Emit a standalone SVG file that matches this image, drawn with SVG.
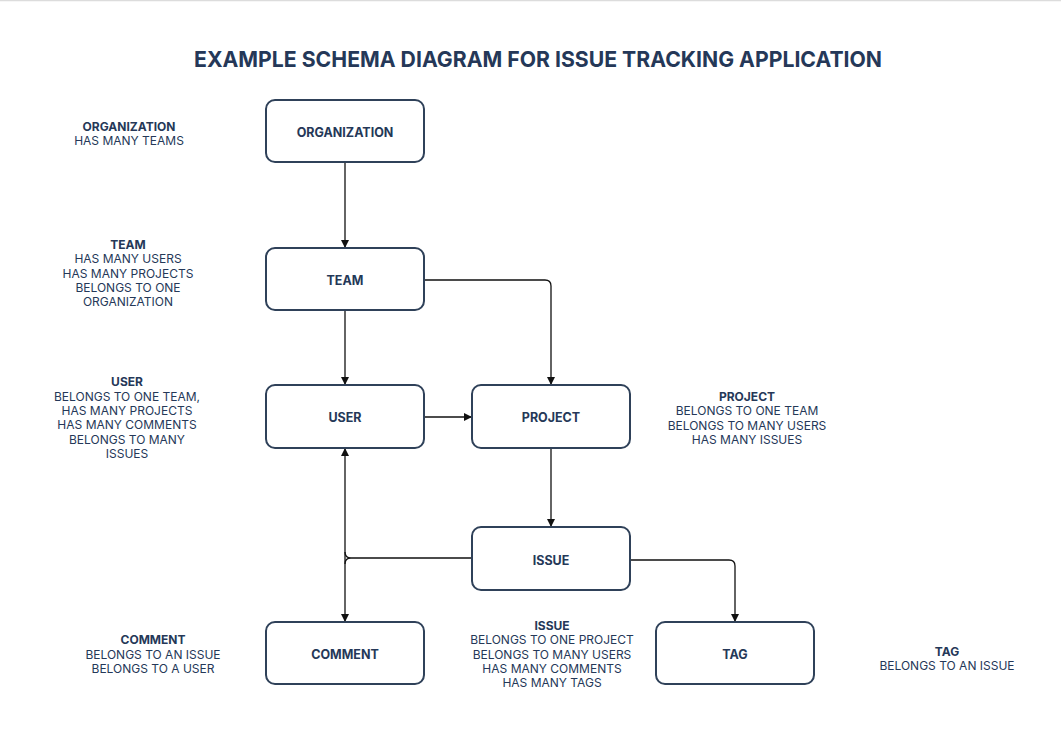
<svg xmlns="http://www.w3.org/2000/svg" width="1061" height="742" viewBox="0 0 1061 742">
<defs>
<style>
.node rect{fill:#fff;stroke:#2f4159;stroke-width:2}
.node text{font-family:Inter,"Noto Sans","Liberation Sans",sans-serif;font-weight:700;font-size:12.5px;fill:#253858;text-anchor:middle;dominant-baseline:central}
.note text{font-family:Inter,"Noto Sans","Liberation Sans",sans-serif;font-size:12px;fill:#253858;text-anchor:middle;dominant-baseline:central}
.note .h{font-weight:700}
.edges path{fill:none;stroke:#111;stroke-width:1.3}
.title{font-family:Inter,"Noto Sans","Liberation Sans",sans-serif;font-weight:700;font-size:22px;fill:#253858;text-anchor:middle;dominant-baseline:central}
</style>
<marker id="arr" viewBox="0 0 10 10" refX="10" refY="5" markerWidth="8" markerHeight="8" markerUnits="userSpaceOnUse" orient="auto-start-reverse">
<path d="M0,0 L10,5 L0,10 Z" fill="#111"/>
</marker>
</defs>
<rect x="0" y="0" width="1061" height="742" fill="#fff"/>
<line x1="0" y1="0.5" x2="1061" y2="0.5" stroke="#dcdcdc" stroke-width="1.5"/>
<text class="title" x="538" y="59" textLength="688" lengthAdjust="spacingAndGlyphs">EXAMPLE SCHEMA DIAGRAM FOR ISSUE TRACKING APPLICATION</text>

<g class="edges" id="connectors">
<path d="M345,162 V248" marker-end="url(#arr)"/>
<path d="M424,280 H545 Q551,280 551,286 V385" marker-end="url(#arr)"/>
<path d="M345,310 V385" marker-end="url(#arr)"/>
<path d="M424,417 H472" marker-end="url(#arr)"/>
<path d="M551,448 V527" marker-end="url(#arr)"/>
<path d="M345,448 V622" marker-start="url(#arr)" marker-end="url(#arr)"/>
<path d="M345,552 Q345,558 351,558 H472 M345,564 Q345,558 351,558"/>
<path d="M630,560 H729 Q735,560 735,566 V622" marker-end="url(#arr)"/>
</g>

<g class="node" id="organization"><rect x="266" y="100" width="158" height="62" rx="9"/><text x="345" y="132">ORGANIZATION</text></g>
<g class="node" id="team"><rect x="266" y="248" width="158" height="62" rx="9"/><text x="345" y="280">TEAM</text></g>
<g class="node" id="user"><rect x="266" y="385" width="158" height="63" rx="9"/><text x="345" y="417">USER</text></g>
<g class="node" id="project"><rect x="472" y="385" width="158" height="63" rx="9"/><text x="551" y="417">PROJECT</text></g>
<g class="node" id="issue"><rect x="472" y="527" width="158" height="63" rx="9"/><text x="551" y="560">ISSUE</text></g>
<g class="node" id="comment"><rect x="266" y="622" width="158" height="62" rx="9"/><text x="345" y="654">COMMENT</text></g>
<g class="node" id="tag"><rect x="656" y="622" width="158" height="62" rx="9"/><text x="735" y="654">TAG</text></g>

<g class="note" id="note-organization">
<text class="h" x="129" y="126">ORGANIZATION</text>
<text x="129" y="140">HAS MANY TEAMS</text>
</g>
<g class="note" id="note-team">
<text class="h" x="128" y="244">TEAM</text>
<text x="128" y="258">HAS MANY USERS</text>
<text x="128" y="273">HAS MANY PROJECTS</text>
<text x="128" y="287">BELONGS TO ONE</text>
<text x="128" y="301">ORGANIZATION</text>
</g>
<g class="note" id="note-user">
<text class="h" x="127" y="381">USER</text>
<text x="127" y="396">BELONGS TO ONE TEAM,</text>
<text x="127" y="410">HAS MANY PROJECTS</text>
<text x="127" y="424">HAS MANY COMMENTS</text>
<text x="127" y="439">BELONGS TO MANY</text>
<text x="127" y="453">ISSUES</text>
</g>
<g class="note" id="note-project">
<text class="h" x="747" y="396">PROJECT</text>
<text x="747" y="410">BELONGS TO ONE TEAM</text>
<text x="747" y="425">BELONGS TO MANY USERS</text>
<text x="747" y="439">HAS MANY ISSUES</text>
</g>
<g class="note" id="note-issue">
<text class="h" x="552" y="625">ISSUE</text>
<text x="552" y="639">BELONGS TO ONE PROJECT</text>
<text x="552" y="654">BELONGS TO MANY USERS</text>
<text x="552" y="668">HAS MANY COMMENTS</text>
<text x="552" y="682">HAS MANY TAGS</text>
</g>
<g class="note" id="note-comment">
<text class="h" x="153" y="639">COMMENT</text>
<text x="153" y="654">BELONGS TO AN ISSUE</text>
<text x="153" y="668">BELONGS TO A USER</text>
</g>
<g class="note" id="note-tag">
<text class="h" x="947" y="651">TAG</text>
<text x="947" y="665">BELONGS TO AN ISSUE</text>
</g>
</svg>
